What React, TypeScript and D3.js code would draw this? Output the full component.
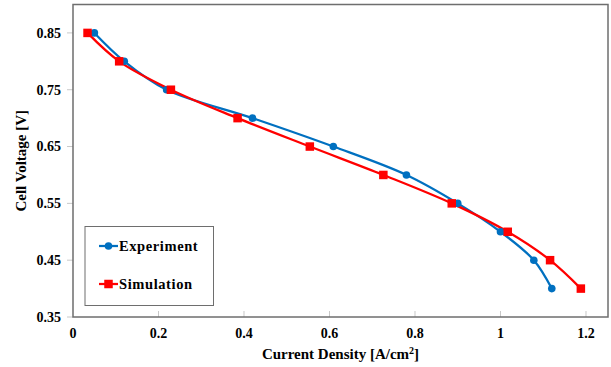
import React, { useEffect, useRef } from "react";
import * as d3 from "d3";

// Experiment: current density [A/cm2] vs cell voltage [V]
const expCurrent = [0.05, 0.12, 0.219, 0.42, 0.609, 0.78, 0.9, 1.0, 1.078, 1.12];
const expVoltage = [0.85, 0.8, 0.75, 0.7, 0.65, 0.6, 0.55, 0.5, 0.45, 0.4];
// Simulation
const simCurrent = [0.034, 0.108, 0.229, 0.385, 0.554, 0.726, 0.886, 1.017, 1.116, 1.188];
const simVoltage = [0.85, 0.8, 0.75, 0.7, 0.65, 0.6, 0.55, 0.5, 0.45, 0.4];

const xTicks = [0, 0.2, 0.4, 0.6, 0.8, 1, 1.2];
const yTicks = [0.35, 0.45, 0.55, 0.65, 0.75, 0.85];

const App = () => {
  const svgRef = useRef<SVGSVGElement>(null);

  useEffect(() => {
    const width = 611;
    const height = 367;
    const left = 73;
    const right = 608;
    const top = 4.5;
    const bottom = 317;
    const font = "'Liberation Serif', 'Times New Roman', serif";
    const frameColor = "#6e6e6e";

    const svg = d3.select(svgRef.current).attr("width", width).attr("height", height);
    svg.selectAll("*").remove();

    const x = d3.scaleLinear().domain([0, 1.2515]).range([left, right]);
    const y = d3.scaleLinear().domain([0.35, 0.9]).range([bottom, top]);

    // y tick marks (outside) and labels
    svg
      .append("g")
      .selectAll("line")
      .data(yTicks)
      .join("line")
      .attr("x1", left - 6)
      .attr("x2", left)
      .attr("y1", (d) => y(d))
      .attr("y2", (d) => y(d))
      .attr("stroke", "#c8c8c8")
      .attr("stroke-width", 1);

    svg
      .append("g")
      .selectAll("text")
      .data(yTicks)
      .join("text")
      .attr("x", left - 12)
      .attr("y", (d) => y(d))
      .attr("dy", "0.35em")
      .attr("text-anchor", "end")
      .attr("font-family", font)
      .attr("font-weight", "bold")
      .attr("font-size", 14)
      .text((d) => d3.format(".2f")(d));

    // x tick marks (inside) and labels
    svg
      .append("g")
      .selectAll("line")
      .data(xTicks.slice(1))
      .join("line")
      .attr("x1", (d) => x(d))
      .attr("x2", (d) => x(d))
      .attr("y1", bottom - 6)
      .attr("y2", bottom)
      .attr("stroke", "#c8c8c8")
      .attr("stroke-width", 1);

    svg
      .append("g")
      .selectAll("text")
      .data(xTicks)
      .join("text")
      .attr("x", (d) => x(d))
      .attr("y", bottom + 16)
      .attr("dy", "0.35em")
      .attr("text-anchor", "middle")
      .attr("font-family", font)
      .attr("font-weight", "bold")
      .attr("font-size", 14)
      .text((d) => String(d));

    // plot frame
    svg
      .append("rect")
      .attr("x", left)
      .attr("y", top)
      .attr("width", right - left)
      .attr("height", bottom - top)
      .attr("fill", "none")
      .attr("stroke", frameColor)
      .attr("stroke-width", 1.5);

    const line = d3
      .line<[number, number]>()
      .x((d) => x(d[0]))
      .y((d) => y(d[1]))
      .curve(d3.curveCatmullRom.alpha(0.5));

    const expData: [number, number][] = expCurrent.map((c, i) => [c, expVoltage[i]]);
    const simData: [number, number][] = simCurrent.map((c, i) => [c, simVoltage[i]]);

    const blue = "#0070c0";
    const red = "#ff0000";

    svg
      .append("path")
      .datum(expData)
      .attr("fill", "none")
      .attr("stroke", blue)
      .attr("stroke-width", 2.25)
      .attr("d", line);

    svg
      .append("path")
      .datum(simData)
      .attr("fill", "none")
      .attr("stroke", red)
      .attr("stroke-width", 2.25)
      .attr("d", line);

    svg
      .append("g")
      .selectAll("circle")
      .data(expData)
      .join("circle")
      .attr("cx", (d) => x(d[0]))
      .attr("cy", (d) => y(d[1]))
      .attr("r", 3.8)
      .attr("fill", blue);

    const sq = 8.5;
    svg
      .append("g")
      .selectAll("rect")
      .data(simData)
      .join("rect")
      .attr("x", (d) => x(d[0]) - sq / 2)
      .attr("y", (d) => y(d[1]) - sq / 2)
      .attr("width", sq)
      .attr("height", sq)
      .attr("fill", red);

    // legend
    const legend = svg.append("g");
    legend
      .append("rect")
      .attr("x", 85)
      .attr("y", 226.5)
      .attr("width", 128.5)
      .attr("height", 79)
      .attr("fill", "white")
      .attr("stroke", frameColor)
      .attr("stroke-width", 1);

    const items = [
      { name: "Experiment", color: blue, yy: 246, shape: "circle" },
      { name: "Simulation", color: red, yy: 284, shape: "square" },
    ];
    items.forEach((it) => {
      legend
        .append("line")
        .attr("x1", 99)
        .attr("x2", 118)
        .attr("y1", it.yy)
        .attr("y2", it.yy)
        .attr("stroke", it.color)
        .attr("stroke-width", 2.25);
      if (it.shape === "circle") {
        legend.append("circle").attr("cx", 108.5).attr("cy", it.yy).attr("r", 3.8).attr("fill", it.color);
      } else {
        legend
          .append("rect")
          .attr("x", 108.5 - sq / 2)
          .attr("y", it.yy - sq / 2)
          .attr("width", sq)
          .attr("height", sq)
          .attr("fill", it.color);
      }
      legend
        .append("text")
        .attr("x", 119)
        .attr("y", it.yy)
        .attr("dy", "0.35em")
        .attr("font-family", font)
        .attr("font-weight", "bold")
        .attr("font-size", 14.5)
        .attr("letter-spacing", 0.6)
        .text(it.name);
    });

    // axis titles
    const xt = svg
      .append("text")
      .attr("x", (left + right) / 2)
      .attr("y", 354)
      .attr("dy", "0.35em")
      .attr("text-anchor", "middle")
      .attr("font-family", font)
      .attr("font-weight", "bold")
      .attr("font-size", 15)
      .text("Current Density [A/cm");
    xt.append("tspan").attr("font-size", 10).attr("dy", "-0.5em").text("2");
    xt.append("tspan").attr("dy", "0.3em").text("]");

    svg
      .append("text")
      .attr("transform", `translate(21, ${(top + bottom) / 2}) rotate(-90)`)
      .attr("dy", "0.35em")
      .attr("text-anchor", "middle")
      .attr("font-family", font)
      .attr("font-weight", "bold")
      .attr("font-size", 15)
      .text("Cell Voltage [V]");
  }, []);

  return (
    <div style={{ position: "absolute", left: 0, top: 0 }}>
      <svg ref={svgRef} style={{ display: "block", background: "white" }}></svg>
    </div>
  );
};

export default App;
